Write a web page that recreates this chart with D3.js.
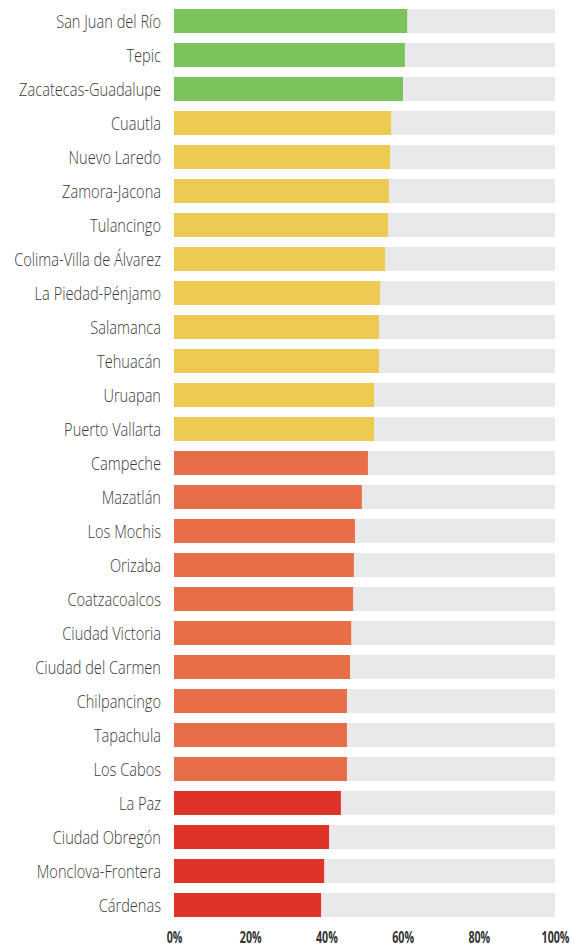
<!DOCTYPE html>
<html>
<head>
<meta charset="utf-8">
<script src="https://cdn.jsdelivr.net/npm/d3@7"></script>
<style>
  html, body { margin: 0; padding: 0; background: #fff; }
  svg { display: block; }
</style>
</head>
<body>
<svg id="chart" width="576" height="946"></svg>
<script>
const cities = [
  "San Juan del Río", "Tepic", "Zacatecas-Guadalupe", "Cuautla", "Nuevo Laredo",
  "Zamora-Jacona", "Tulancingo", "Colima-Villa de Álvarez", "La Piedad-Pénjamo",
  "Salamanca", "Tehuacán", "Uruapan", "Puerto Vallarta", "Campeche", "Mazatlán",
  "Los Mochis", "Orizaba", "Coatzacoalcos", "Ciudad Victoria", "Ciudad del Carmen",
  "Chilpancingo", "Tapachula", "Los Cabos", "La Paz", "Ciudad Obregón",
  "Monclova-Frontera", "Cárdenas"
];
const values = [
  61.2, 60.6, 60.1, 57.0, 56.7,
  56.4, 56.2, 55.4, 54.1,
  53.8, 53.8, 52.5, 52.5, 50.9, 49.3,
  47.5, 47.2, 47.0, 46.5, 46.2,
  45.4, 45.4, 45.4, 43.8, 40.7,
  39.4, 38.6
];
const groups = [
  "g","g","g","y","y","y","y","y","y","y","y","y","y",
  "o","o","o","o","o","o","o","o","o","o",
  "r","r","r","r"
];
const tickValues = [0, 20, 40, 60, 80, 100];
const groupColors = { g: "#7DC35B", y: "#EDCB52", o: "#E86E47", r: "#DF3328" };

const svg = d3.select("#chart");
const x = d3.scaleLinear().domain([0, 100]).range([174, 555]);
const y = d3.scaleBand().domain(cities).range([9, 917]).paddingInner(10 / 34).paddingOuter(0);

const data = cities.map((c, i) => ({ city: c, value: values[i], group: groups[i] }));

// background tracks
svg.append("g").selectAll("rect").data(data).join("rect")
  .attr("x", x(0)).attr("y", d => y(d.city))
  .attr("width", x(100) - x(0)).attr("height", y.bandwidth())
  .attr("fill", "#E9E9EB");

// value bars
svg.append("g").selectAll("rect").data(data).join("rect")
  .attr("x", x(0)).attr("y", d => y(d.city))
  .attr("width", d => x(d.value) - x(0)).attr("height", y.bandwidth())
  .attr("fill", d => groupColors[d.group]);

// labels
const labels = svg.append("g").selectAll("text").data(data).join("text")
  .attr("x", 0).attr("y", 0)
  .attr("text-anchor", "end")
  .attr("font-family", "'Open Sans', sans-serif")
  .attr("font-weight", 300)
  .attr("font-size", 18.5)
  .attr("fill", "#3a3a3a")
  .text(d => d.city);
// condense to match reference width
let ref = null;
labels.each(function(d) { if (d.city === "Colima-Villa de Álvarez") ref = this.getComputedTextLength(); });
const sx = ref ? 147 / ref : 0.8;
labels.attr("transform", d => `translate(161,${y(d.city) + y.bandwidth() / 2 + 6.5}) scale(${sx},1)`);

// axis
const axis = d3.axisBottom(x).tickValues(tickValues).tickFormat(d => d + "%").tickSize(0);
const ag = svg.append("g").attr("transform", "translate(0,930)").call(axis);
ag.select(".domain").remove();
const tt = ag.selectAll(".tick text")
  .attr("font-family", "'Open Sans', sans-serif")
  .attr("font-weight", 700)
  .attr("font-size", 15.5)
  .attr("fill", "#333")
  .attr("dy", 0).attr("y", 0);
let tref = null;
tt.each(function(d) { if (d === 100) tref = this.getComputedTextLength(); });
const tsx = tref ? 28 / tref : 0.65;
tt.attr("transform", `translate(0,12.5) scale(${tsx},1)`);
</script>
</body>
</html>
